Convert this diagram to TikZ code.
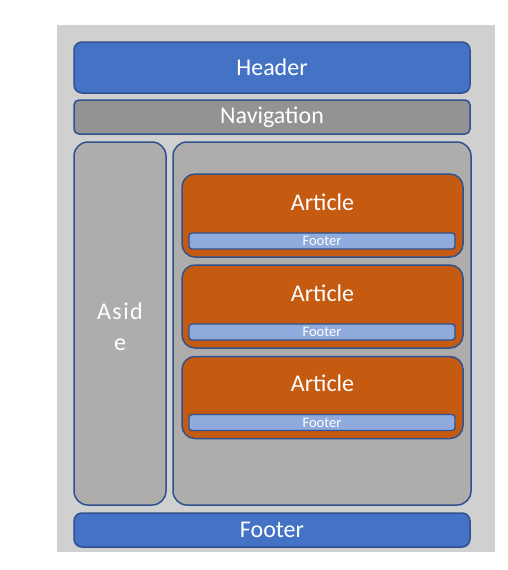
\documentclass[tikz,border=0pt]{standalone}
\usepackage{fontspec}
\setmainfont{Carlito}
\definecolor{bggray}{HTML}{D0D0D0}
\definecolor{hblue}{HTML}{4472C4}
\definecolor{bord}{HTML}{2F528F}
\definecolor{navgray}{HTML}{939393}
\definecolor{boxgray}{HTML}{AEADAB}
\definecolor{artorange}{HTML}{C55A11}
\definecolor{lightblue}{HTML}{8FAADC}
\tikzset{
  blk/.style={draw=bord, line width=1.5pt, inner sep=0pt, text=white, font=\fontsize{24}{28}\selectfont},
  bluebox/.style={blk, fill=hblue, rounded corners=8pt},
  navbox/.style={blk, fill=navgray, rounded corners=5pt},
  graybox/.style={blk, fill=boxgray, rounded corners=14pt},
  artbox/.style={blk, fill=artorange, rounded corners=13pt},
  subfoot/.style={blk, line width=1.3pt, fill=lightblue, rounded corners=3pt, font=\fontsize{14.5}{16}\selectfont},
  lbl/.style={text=white, inner sep=0pt, font=\fontsize{24}{28}\selectfont}
}
\begin{document}
\begin{tikzpicture}[x=1pt,y=-1pt]
\useasboundingbox (0,0) rectangle (507,570);
\fill[bggray] (57,25) rectangle (495,552);
\node[bluebox, minimum width=396pt, minimum height=51pt] (header) at (272,67.5) {Header};
\node[navbox, minimum width=396pt, minimum height=34pt] (nav) at (272,117) {Navigation};
\node[graybox, minimum width=92pt, minimum height=363pt] (aside) at (120,323.5) {};
\node[lbl, align=center, font=\fontsize{24}{31}\selectfont\addfontfeature{LetterSpace=6}] (asidet) at (120,327) {Asid\\e};
\node[graybox, minimum width=298pt, minimum height=363pt] (main) at (322,323.5) {};
\node[bluebox, minimum width=396pt, minimum height=34pt] (footer) at (272,530) {Footer};
% articles
\node[artbox, minimum width=281pt, minimum height=83pt] (art1) at (322.5,215.5) {};
\node[lbl] (art1t) at (322.5,202) {Article};
\node[subfoot, minimum width=266pt, minimum height=16pt] (f1) at (322,241) {Footer};
\node[artbox, minimum width=281pt, minimum height=83pt] (art2) at (322.5,306.5) {};
\node[lbl] (art2t) at (322.5,293) {Article};
\node[subfoot, minimum width=266pt, minimum height=16pt] (f2) at (322,332) {Footer};
\node[artbox, minimum width=281pt, minimum height=82pt] (art3) at (322.5,397.5) {};
\node[lbl] (art3t) at (322.5,383) {Article};
\node[subfoot, minimum width=266pt, minimum height=16pt] (f3) at (322,422.5) {Footer};
\end{tikzpicture}
\end{document}
